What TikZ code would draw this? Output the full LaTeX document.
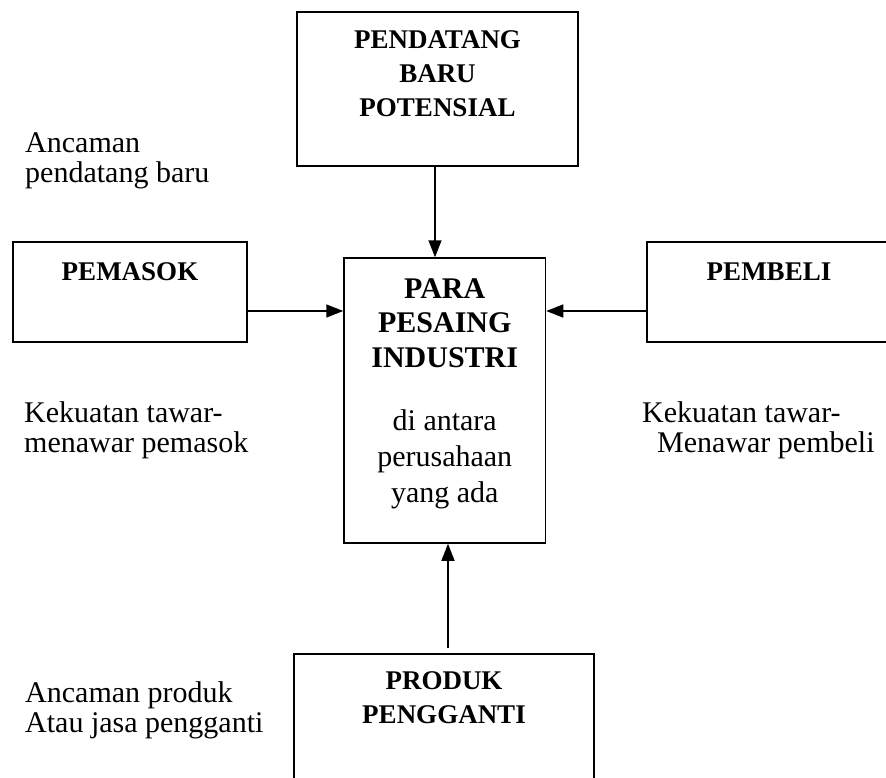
\documentclass[tikz,border=0pt]{standalone}
\usepackage{fontspec}
\setmainfont{Liberation Serif}
\usetikzlibrary{arrows.meta}

\begin{document}
\begin{tikzpicture}
[x=1pt, y=-1pt,
  box/.style = {draw, line width=1.5pt, inner sep=0pt},
  title/.style = {font=\fontsize{27}{34}\selectfont\bfseries, align=center, inner sep=0pt, anchor=base},
  bigtitle/.style = {font=\fontsize{30}{34.5}\selectfont\bfseries, align=center, inner sep=0pt, anchor=base},
  note/.style = {font=\fontsize{30}{30}\selectfont, align=left, inner sep=0pt, anchor=base west},
  arr/.style = {line width=1.6pt, -{Triangle[length=17pt, width=13pt]}}]
  \useasboundingbox (0,0) rectangle (886,778);
  \clip (0,0) rectangle (886,778);
  % boxes
  \node[box, minimum width=281pt, minimum height=154pt] (pendatang) at (437.5,89) {};
  \node[box, minimum width=234pt, minimum height=100pt] (pemasok) at (130,292) {};
  \node[box, minimum width=201.5pt, minimum height=285pt] (pesaing) at (444.75,400.5) {};
  \node[box, minimum width=244pt, minimum height=100pt] (pembeli) at (769,292) {};
  \node[box, minimum width=300pt, minimum height=156pt] (produk) at (444,732) {};
  % box texts (anchored at the last line)
  \node[title] (t-pendatang) at (437.5,117) {PENDATANG\\BARU\\POTENSIAL};
  \node[title] (t-pemasok) at (130,280) {PEMASOK};
  \node[title] (t-pembeli) at (769,280) {PEMBELI};
  \node[bigtitle] (t-pesaing) at (444.75,367) {PARA\\PESAING\\INDUSTRI};
  \node[font=\fontsize{30}{36}\selectfont, align=center, inner sep=0pt, anchor=base]
    (t-antara) at (444.75,502) {di antara\\perusahaan\\yang ada};
  \node[title] (t-produk) at (444,723) {PRODUK\\PENGGANTI};
  % forces
  \node[note] (n-baru) at (25,183) {Ancaman\\pendatang baru};
  \node[note] (n-pemasok) at (24,452) {Kekuatan tawar-\\menawar pemasok};
  \node[note] (n-pembeli) at (642,452) {Kekuatan tawar-\\\hspace*{15pt}Menawar pembeli};
  \node[note] (n-produk) at (25,732) {Ancaman produk\\Atau jasa pengganti};
  % arrows
  \draw[arr] (pendatang.south -| 435,0) -- (pesaing.north -| 435,0);
  \draw[arr] (pemasok.east |- 0,311) -- (pesaing.west |- 0,311);
  \draw[arr] (pembeli.west |- 0,311) -- (pesaing.east |- 0,311);
  \draw[arr] (produk.north -| 448,0) ++(0,-5) -- (pesaing.south -| 448,0);
\end{tikzpicture}
\end{document}
